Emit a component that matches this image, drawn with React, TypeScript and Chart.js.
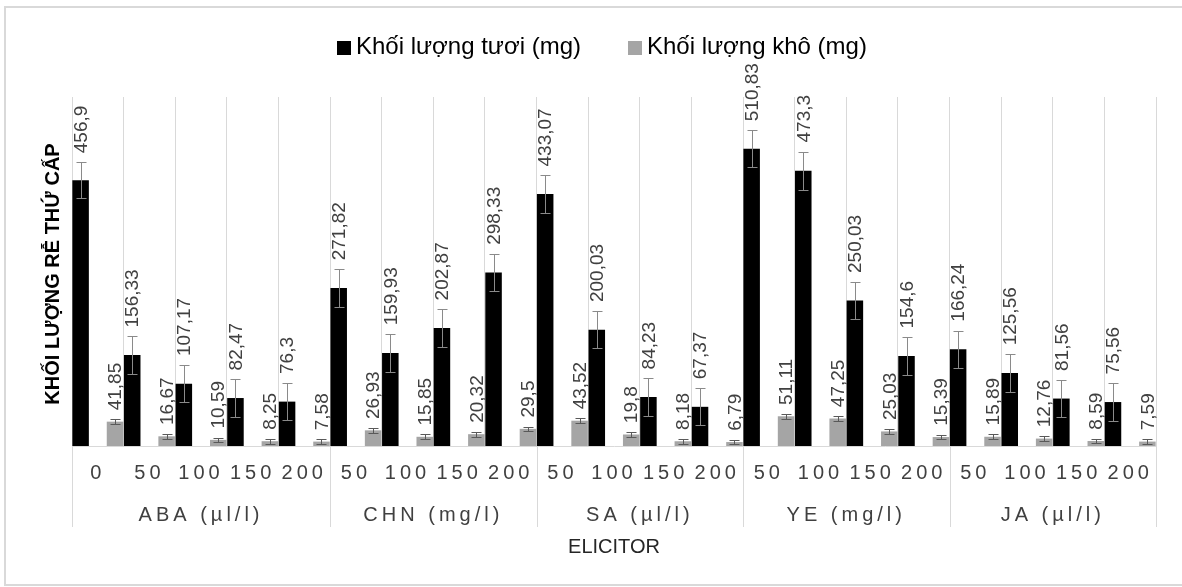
import React, { useEffect, useRef } from 'react';
import { Chart, registerables } from 'chart.js';

Chart.register(...registerables);

// ---------- data ----------
const categories = ['0', '50', '100', '150', '200', '50', '100', '150', '200', '50', '100', '150', '200', '50', '100', '150', '200', '50', '100', '150', '200'];
const groupNames = ['ABA (µl/l)', 'CHN (mg/l)', 'SA (µl/l)', 'YE (mg/l)', 'JA (µl/l)'];
const groupSizes = [5, 4, 4, 4, 4];
const freshWeight = [456.9, 156.33, 107.17, 82.47, 76.3, 271.82, 159.93, 202.87, 298.33, 433.07, 200.03, 84.23, 67.37, 510.83, 473.3, 250.03, 154.6, 166.24, 125.56, 81.56, 75.56];
const dryWeight = [41.85, 16.67, 10.59, 8.25, 7.58, 26.93, 15.85, 20.32, 29.5, 43.52, 19.8, 8.18, 6.79, 51.11, 47.25, 25.03, 15.39, 15.89, 12.76, 8.59, 7.59];
const freshError = [31, 32, 32, 32, 32, 32, 32, 32, 32, 32, 32, 32, 32, 32, 33, 32, 32, 32, 32, 32, 32];
const dryError = [4, 4, 4, 4, 4, 4, 4, 4, 4, 4, 4, 4, 4, 4, 4, 4, 4, 4, 4, 4, 4];
const spacerValues = [null, null, null, null, null, null, null, null, null, null, null, null, null, null, null, null, null, null, null, null, null];
const seriesNames = ['Khối lượng tươi (mg)', 'Khối lượng khô (mg)'];
const yTitle = 'KHỐI LƯỢNG RỄ THỨ CẤP';
const xTitle = 'ELICITOR';
const yMin = 0;
const yMax = 600;

const FONT = '"Liberation Sans", Arial, sans-serif';
const FRESH_COLOR = '#000000';
const DRY_COLOR = '#a5a5a5';
const GRID = '#d9d9d9';

const fmt = (v: number) => String(v).replace('.', ',');

const overlay = {
  id: 'overlay',
  beforeDraw(chart: any) {
    const ctx = chart.ctx;
    ctx.save();
    ctx.fillStyle = '#ffffff';
    ctx.fillRect(0, 0, chart.width, chart.height);
    ctx.restore();
  },
  afterDatasetsDraw(chart: any) {
    const ctx = chart.ctx;
    const ys = chart.scales.y;
    const sets: Array<[number, number[], number[], string]> = [
      [0, freshWeight, freshError, '#8a8a8a'],
      [2, dryWeight, dryError, '#595959'],
    ];
    sets.forEach(([di, vals, errs, col]) => {
      const meta = chart.getDatasetMeta(di);
      meta.data.forEach((bar: any, i: number) => {
        const x = Math.round(bar.x) + 0.5;
        const top = Math.round(ys.getPixelForValue(vals[i] + errs[i])) + 0.5;
        const bot = Math.round(ys.getPixelForValue(Math.max(0, vals[i] - errs[i]))) + 0.5;
        ctx.save();
        ctx.strokeStyle = col;
        ctx.lineWidth = 1;
        ctx.beginPath();
        ctx.moveTo(x, top);
        ctx.lineTo(x, bot);
        ctx.moveTo(x - 5, top);
        ctx.lineTo(x + 5, top);
        ctx.moveTo(x - 5, bot);
        ctx.lineTo(x + 5, bot);
        ctx.stroke();
        ctx.restore();
      });
    });
    sets.forEach(([di, vals, errs]) => {
      const meta = chart.getDatasetMeta(di);
      meta.data.forEach((bar: any, i: number) => {
        const top = ys.getPixelForValue(vals[i] + errs[i]);
        ctx.save();
        ctx.translate(bar.x + 1, top - 9);
        ctx.rotate(-Math.PI / 2);
        ctx.font = '19px ' + FONT;
        ctx.fillStyle = '#404040';
        ctx.textAlign = 'left';
        ctx.textBaseline = 'middle';
        ctx.fillText(fmt(vals[i]), 0, 0);
        ctx.restore();
      });
    });
  },
  afterDraw(chart: any) {
    const ctx = chart.ctx;
    const xs = chart.scales.x;
    const area = chart.chartArea;
    ctx.save();

    // category tick labels
    ctx.font = '20px ' + FONT;
    ctx.fillStyle = '#404040';
    ctx.textAlign = 'center';
    ctx.textBaseline = 'middle';
    (ctx as any).letterSpacing = '4px';
    categories.forEach((c, i) => {
      ctx.fillText(c, xs.getPixelForValue(i), area.bottom + 27.5);
    });

    // group labels + separators
    let start = 0;
    ctx.strokeStyle = GRID;
    ctx.lineWidth = 1;
    const bounds: number[] = [start];
    groupSizes.forEach((n, g) => {
      const left = xs.getPixelForValue(start - 0.5);
      const right = xs.getPixelForValue(start + n - 0.5);
      ctx.fillText(groupNames[g], (left + right) / 2, area.bottom + 69.5);
      start += n;
      bounds.push(start);
    });
    ctx.beginPath();
    bounds.forEach((b) => {
      const x = Math.round(xs.getPixelForValue(b - 0.5)) + 0.5;
      ctx.moveTo(x, area.bottom);
      ctx.lineTo(x, area.bottom + 81);
    });
    ctx.stroke();
    (ctx as any).letterSpacing = '0px';

    // x title
    ctx.font = '20px ' + FONT;
    ctx.fillStyle = '#262626';
    ctx.fillText(xTitle, (area.left + area.right) / 2, area.bottom + 101);

    // y title
    ctx.save();
    ctx.translate(53, (area.top + area.bottom) / 2 + 2.5);
    ctx.rotate(-Math.PI / 2);
    ctx.font = 'bold 20px ' + FONT;
    ctx.fillStyle = '#000000';
    ctx.textAlign = 'center';
    ctx.textBaseline = 'middle';
    ctx.fillText(yTitle, 0, 0);
    ctx.restore();

    // legend
    ctx.font = '24px ' + FONT;
    ctx.textAlign = 'left';
    ctx.textBaseline = 'alphabetic';
    let lx = 337;
    const colors = [FRESH_COLOR, DRY_COLOR];
    seriesNames.forEach((name, k) => {
      ctx.fillStyle = colors[k];
      ctx.fillRect(lx, 41, 14, 14);
      ctx.fillStyle = '#000000';
      ctx.fillText(name, lx + 19, 54);
      lx += 19 + ctx.measureText(name).width + 47;
    });

    // outer border
    ctx.strokeStyle = GRID;
    ctx.lineWidth = 2;
    ctx.strokeRect(5, 7, 1240, 578);
    ctx.restore();
  },
};

export default function App() {
  const ref = useRef<HTMLCanvasElement>(null);
  useEffect(() => {
    const chart = new Chart(ref.current as HTMLCanvasElement, {
      type: 'bar',
      data: {
        labels: categories,
        datasets: [
          { label: seriesNames[0], data: freshWeight, backgroundColor: FRESH_COLOR, barPercentage: 0.96, categoryPercentage: 1 },
          { label: '', data: spacerValues as any, backgroundColor: 'rgba(0,0,0,0)', barPercentage: 0.96, categoryPercentage: 1 },
          { label: seriesNames[1], data: dryWeight, backgroundColor: DRY_COLOR, barPercentage: 0.96, categoryPercentage: 1 },
        ],
      },
      options: {
        animation: false,
        responsive: false,
        maintainAspectRatio: false,
        devicePixelRatio: 1,
        layout: { padding: { left: 72, right: 26, top: 97, bottom: 141 } },
        plugins: { legend: { display: false }, tooltip: { enabled: false } },
        scales: {
          x: {
            grid: { color: GRID, drawTicks: false, offset: true, lineWidth: 1 },
            border: { color: GRID, width: 1 },
            ticks: { display: false },
          },
          y: { display: false, min: yMin, max: yMax },
        },
      },
      plugins: [overlay],
    });
    return () => chart.destroy();
  }, []);
  return (
    <div style={{ position: 'fixed', left: 0, top: 0, width: 1182, height: 587, background: '#ffffff' }}>
      <canvas ref={ref} width={1182} height={587} style={{ display: 'block', width: 1182, height: 587 }} />
    </div>
  );
}
